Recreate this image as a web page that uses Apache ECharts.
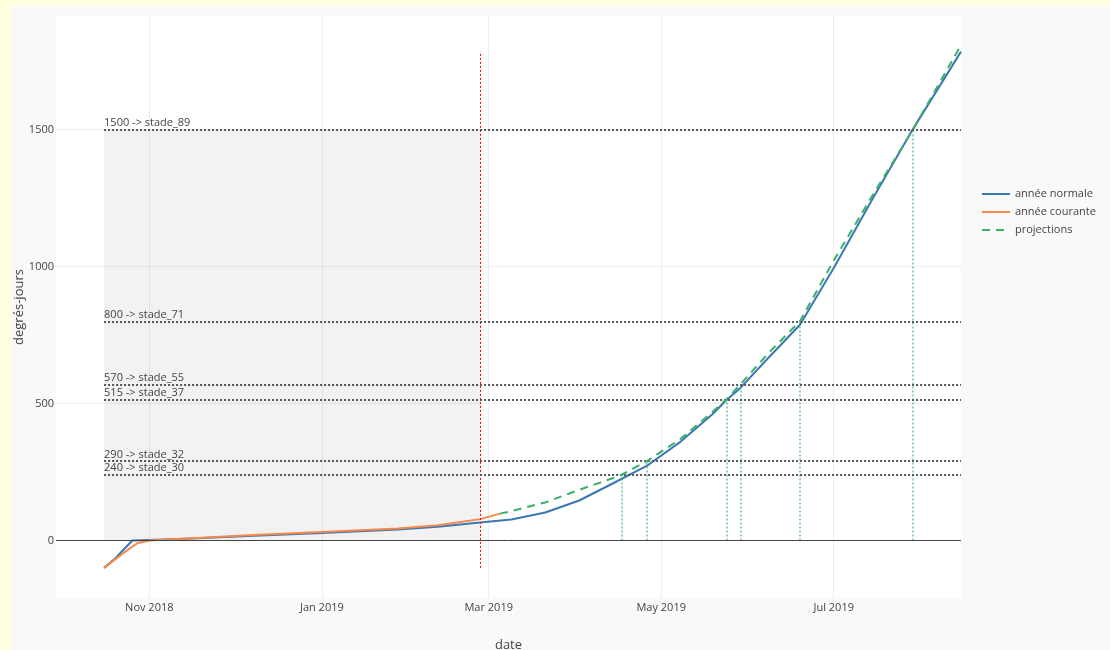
<!DOCTYPE html>
<html>
<head>
<meta charset="utf-8">
<script src="https://cdn.jsdelivr.net/npm/echarts@6/dist/echarts.min.js"></script>
<style>
  html, body { margin: 0; padding: 0; background: #ffffe0; }
  #main { position: absolute; left: 12px; top: 6px; width: 1098px; height: 644px; background: #f9f9f9; }
</style>
</head>
<body>
<div id="main"></div>
<script>
// année normale
var normalDates = ['2018-10-16', '2018-10-20', '2018-10-26', '2018-11-01', '2018-11-18', '2018-12-06',
  '2019-01-01', '2019-01-28', '2019-02-11', '2019-02-26', '2019-03-09', '2019-03-21', '2019-04-02',
  '2019-04-14', '2019-04-26', '2019-05-08', '2019-05-19', '2019-05-24', '2019-05-29', '2019-06-08',
  '2019-06-19', '2019-07-01', '2019-07-15', '2019-07-29', '2019-08-15'];
var normalValues = [-100, -65, 0, 2, 8, 16, 27, 40, 50, 66, 77, 102, 146, 209, 273, 362, 460, 512, 557, 668,
  787, 995, 1252, 1502, 1785];

// année courante
var currentDates = ['2018-10-16', '2018-10-20', '2018-10-26', '2018-10-28', '2018-11-01', '2018-11-18',
  '2018-12-06', '2019-01-01', '2019-01-28', '2019-02-11', '2019-02-26', '2019-03-05'];
var currentValues = [-100, -68, -22, -9, 0, 9, 19, 31, 44, 56, 78, 98];

// projections
var projDates = ['2019-03-05', '2019-03-09', '2019-03-21', '2019-04-02', '2019-04-14', '2019-04-17',
  '2019-04-26', '2019-05-08', '2019-05-19', '2019-05-24', '2019-05-29', '2019-06-08', '2019-06-19',
  '2019-07-01', '2019-07-15', '2019-07-29', '2019-08-15'];
var projValues = [98, 107, 139, 185, 228, 240, 290, 372, 468, 515, 570, 685, 800, 1022, 1265, 1500, 1809];

// stades
var stageValues = [240, 290, 515, 570, 800, 1500];
var stageNames = ['stade_30', 'stade_32', 'stade_37', 'stade_55', 'stade_71', 'stade_89'];
var stageDates = ['2019-04-17', '2019-04-26', '2019-05-24', '2019-05-29', '2019-06-19', '2019-07-29'];
var todayDate = '2019-02-26';

var xTicks = ['2018-11-01', '2019-01-01', '2019-03-01', '2019-05-01', '2019-07-01'];
var yTicks = [0, 500, 1000, 1500];
var monthNames = ['Jan', 'Feb', 'Mar', 'Apr', 'May', 'Jun', 'Jul', 'Aug', 'Sep', 'Oct', 'Nov', 'Dec'];

var FONT = '"Open Sans", sans-serif';

function ts(s) {
  var p = s.split('-');
  return new Date(+p[0], +p[1] - 1, +p[2]).getTime();
}
function pairs(dates, values) {
  return dates.map(function (d, i) { return [ts(d), values[i]]; });
}

var firstDate = ts(normalDates[0]);
var lastDate = ts(normalDates[normalDates.length - 1]);
var yLow = Math.min.apply(null, normalValues);
var yHigh = Math.max.apply(null, normalValues);
var xTickVals = xTicks.map(ts);

var stageLines = stageValues.map(function (v, i) {
  return [
    { coord: [firstDate, v], label: { formatter: v + ' -> ' + stageNames[i] } },
    { coord: [lastDate, v] }
  ];
});

var greenLines = stageValues.map(function (v, i) {
  return [{ coord: [ts(stageDates[i]), 0] }, { coord: [ts(stageDates[i]), v] }];
});

var otherLines = greenLines.concat([
  [
    { coord: [ts(todayDate), yLow], lineStyle: { color: '#ff0000', type: [2, 2], width: 1, opacity: 1 } },
    { coord: [ts(todayDate), yHigh] }
  ],
  { yAxis: 0, lineStyle: { color: '#444', type: 'solid', width: 1, opacity: 1 } }
]);

var myChart = echarts.init(document.getElementById('main'));
myChart.setOption({
  animation: false,
  backgroundColor: '#f9f9f9',
  textStyle: { fontFamily: FONT },
  grid: {
    left: 44, top: 10, right: 149, bottom: 52,
    outerBoundsMode: 'none',
    show: true, backgroundColor: '#fff', borderWidth: 0
  },
  legend: {
    data: ['année normale', 'année courante', 'projections'],
    orient: 'vertical',
    left: 964,
    top: 176,
    itemWidth: 28,
    itemHeight: 14,
    itemGap: 4,
    itemStyle: { opacity: 0, borderWidth: 0 },
    textStyle: { color: '#444', fontSize: 11, fontFamily: FONT, lineHeight: 14 }
  },
  xAxis: {
    type: 'value',
    min: ts('2018-09-29'),
    max: lastDate,
    name: 'date',
    nameLocation: 'middle',
    nameGap: 41,
    nameMoveOverlap: false,
    nameTextStyle: { color: '#444', fontSize: 13, fontFamily: FONT },
    axisLine: { show: false },
    axisTick: { show: false, customValues: xTickVals },
    axisLabel: {
      customValues: xTickVals,
      color: '#444',
      fontSize: 11,
      fontFamily: FONT,
      margin: 4,
      formatter: function (val) {
        var d = new Date(val);
        return monthNames[d.getMonth()] + ' ' + d.getFullYear();
      }
    },
    splitLine: { show: true, lineStyle: { color: '#eee', width: 1 } }
  },
  yAxis: {
    type: 'value',
    min: -210,
    max: 1915,
    name: 'degrés-jours',
    nameLocation: 'middle',
    nameGap: 30,
    nameMoveOverlap: false,
    nameTextStyle: { color: '#444', fontSize: 13, fontFamily: FONT },
    axisLine: { show: false },
    axisTick: { show: false, customValues: yTicks },
    axisLabel: {
      customValues: yTicks, color: '#444', fontSize: 11, fontFamily: FONT, margin: 2,
      formatter: function (val) { return String(val); }
    },
    splitLine: { show: true, lineStyle: { color: '#eee', width: 1 } }
  },
  series: [
    {
      type: 'line',
      data: [],
      silent: true,
      z: 1,
      markArea: {
        silent: true,
        itemStyle: { color: 'rgba(128,128,128,0.1)' },
        data: [[{ coord: [firstDate, 0] }, { coord: [ts(todayDate), stageValues[stageValues.length - 1]] }]]
      }
    },
    {
      name: 'année normale',
      type: 'line',
      data: pairs(normalDates, normalValues),
      showSymbol: false,
      symbol: 'none',
      color: '#3a78b4',
      lineStyle: { width: 2, color: '#3a78b4' },
      z: 3
    },
    {
      name: 'année courante',
      type: 'line',
      data: pairs(currentDates, currentValues),
      showSymbol: false,
      symbol: 'none',
      color: '#f5884a',
      lineStyle: { width: 2, color: '#f5884a' },
      z: 4
    },
    {
      name: 'projections',
      type: 'line',
      data: pairs(projDates, projValues),
      showSymbol: false,
      symbol: 'none',
      color: '#3cb068',
      lineStyle: { width: 2, color: '#3cb068', type: [8, 6] },
      z: 5
    },
    {
      type: 'line',
      data: [],
      silent: true,
      z: 6,
      markLine: {
        silent: true,
        symbol: ['none', 'none'],
        label: { show: false },
        lineStyle: { color: 'rgba(60,176,104,0.75)', type: [2, 2], width: 1.5, opacity: 1 },
        data: otherLines
      }
    },
    {
      type: 'line',
      data: [],
      silent: true,
      z: 7,
      markLine: {
        silent: true,
        symbol: ['none', 'none'],
        label: {
          show: true,
          position: 'insideStartTop',
          distance: [0, 1],
          color: '#444',
          fontSize: 11,
          fontFamily: FONT
        },
        lineStyle: { color: '#555', type: [2, 2], width: 2, opacity: 1 },
        data: stageLines
      }
    }
  ]
});
</script>
</body>
</html>
